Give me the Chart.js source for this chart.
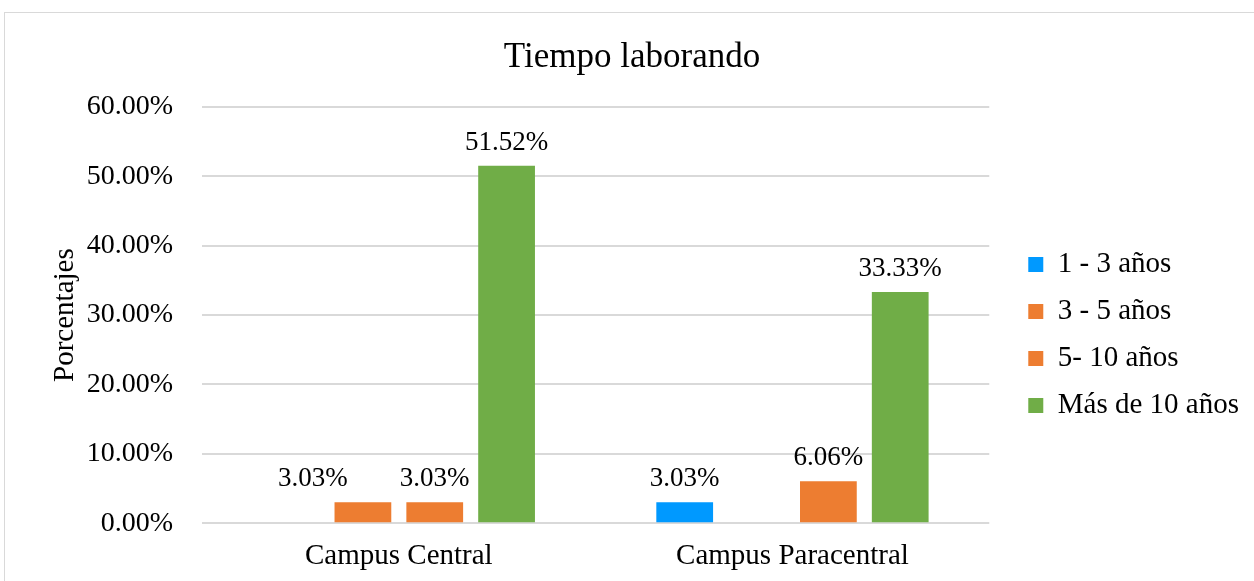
<!DOCTYPE html>
<html>
<head>
<meta charset="utf-8">
<script src="https://cdn.jsdelivr.net/npm/chart.js@4"></script>
<style>
  html, body { margin: 0; padding: 0; background: #fff; overflow: hidden; }
  #frame { position: absolute; left: 4px; top: 12px; width: 1260px; height: 580px; border: 1px solid #d9d9d9; box-sizing: border-box; }
  #wrap { position: absolute; left: 0; top: 0; width: 1250px; height: 569px; }
</style>
</head>
<body>
<div id="frame"><div id="wrap"><canvas id="chart"></canvas></div></div>
<script>
const categories = ['Campus Central', 'Campus Paracentral'];
const seriesNames = ['1 - 3 años', '3 - 5 años', '5- 10 años', 'Más de 10 años'];
const uno_tres = [0, 3.03];
const tres_cinco = [3.03, 0];
const cinco_diez = [3.03, 6.06];
const mas_diez = [51.52, 33.33];
const colors = ['#0099ff', '#ed7d31', '#ed7d31', '#70ad47'];

const serif = "'Liberation Serif', 'Times New Roman', serif";

// en el original la etiqueta del primer 3.03% fue movida a mano hacia la izquierda
const labelShift = { '1-0': -50 };

// etiquetas de valor encima de cada barra (sin plugin externo)
const valueLabels = {
    id: 'valueLabels',
    afterDatasetsDraw(chart) {
        const ctx = chart.ctx;
        ctx.save();
        ctx.font = '27px ' + serif;
        ctx.fillStyle = '#000';
        ctx.textAlign = 'center';
        ctx.textBaseline = 'alphabetic';
        chart.data.datasets.forEach((ds, i) => {
            chart.getDatasetMeta(i).data.forEach((bar, j) => {
                const v = ds.data[j];
                if (!v) return;
                const dx = labelShift[i + '-' + j] || 0;
                ctx.fillText(v.toFixed(2) + '%', bar.x + dx, bar.y - 16);
            });
        });
        ctx.restore();
    }
};

// deja más aire entre el área de trazado y la leyenda, y la baja un poco
const legendGap = {
    id: 'legendGap',
    beforeInit(chart) {
        const fit = chart.legend.fit;
        chart.legend.fit = function () {
            fit.bind(chart.legend)();
            this.width += 21;
        };
    },
    afterLayout(chart) {
        const lg = chart.legend;
        lg.left += 21;
        lg.top += 34;
        lg.bottom += 34;
    }
};

new Chart(document.getElementById('chart'), {
    type: 'bar',
    data: {
        labels: categories,
        datasets: [uno_tres, tres_cinco, cinco_diez, mas_diez].map((d, i) => ({
            label: seriesNames[i],
            data: d,
            backgroundColor: colors[i],
            barPercentage: 0.79,
            categoryPercentage: 0.73
        }))
    },
    options: {
        responsive: true,
        maintainAspectRatio: false,
        animation: false,
        layout: { padding: { left: 10, right: 6, top: 7, bottom: 0 } },
        plugins: {
            title: {
                display: true,
                text: 'Tiempo laborando',
                color: '#000',
                font: { family: serif, size: 35, weight: 'normal' },
                padding: { top: 17, bottom: 28 }
            },
            legend: {
                position: 'right',
                align: 'center',
                labels: {
                    color: '#000',
                    font: { family: serif, size: 29 },
                    boxWidth: 15,
                    boxHeight: 15,
                    padding: 18
                }
            },
            tooltip: { enabled: false }
        },
        scales: {
            x: {
                grid: { display: false },
                border: { display: false },
                ticks: { color: '#000', font: { family: serif, size: 29 }, padding: 8 }
            },
            y: {
                min: 0,
                max: 60,
                afterFit: scale => { scale.width = 187; },
                ticks: {
                    stepSize: 10,
                    color: '#000',
                    font: { family: serif, size: 28 },
                    padding: 29,
                    callback: v => v.toFixed(2) + '%'
                },
                grid: { color: '#d9d9d9', lineWidth: 2, drawTicks: false },
                border: { display: false },
                title: {
                    display: true,
                    text: 'Porcentajes',
                    color: '#000',
                    font: { family: serif, size: 29 },
                    padding: { top: 33, bottom: 9 }
                }
            }
        }
    },
    plugins: [valueLabels, legendGap]
});
</script>
</body>
</html>
